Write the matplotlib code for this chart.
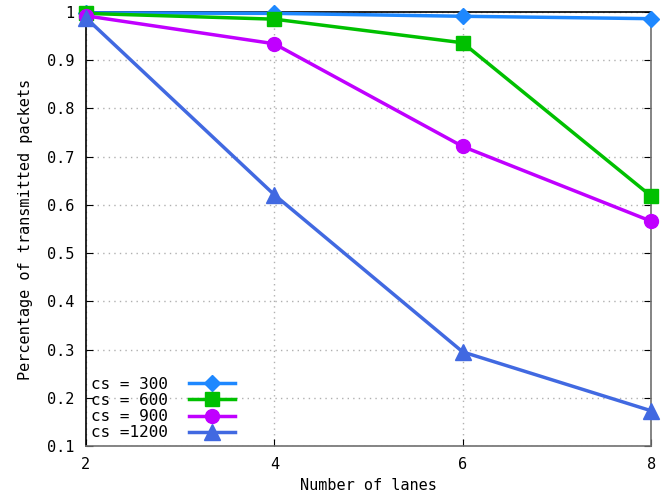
import matplotlib
matplotlib.use("Agg")
import matplotlib.pyplot as plt
from matplotlib.ticker import FuncFormatter

lanes = [2, 4, 6, 8]
cs300 = [0.998, 0.997, 0.991, 0.986]
cs600 = [0.997, 0.985, 0.936, 0.618]
cs900 = [0.992, 0.934, 0.721, 0.566]
cs1200 = [0.988, 0.621, 0.295, 0.173]
labels = ["cs = 300", "cs = 600", "cs = 900", "cs =1200"]

plt.rcParams['font.family'] = ['DejaVu Sans Mono']
fig = plt.figure(figsize=(6.7, 4.97), dpi=100)
ax = fig.add_axes([0.128, 0.1026, 0.844, 0.8734])

kw = dict(lw=2.5, clip_on=False, zorder=5)
ax.plot(lanes, cs300, color='#1e88ff', marker='D', ms=8, label=labels[0], **kw)
ax.plot(lanes, cs600, color='#00c000', marker='s', ms=10, label=labels[1], **kw)
ax.plot(lanes, cs900, color='#c000ff', marker='o', ms=10, label=labels[2], **kw)
ax.plot(lanes, cs1200, color='#4169e1', marker='^', ms=11, label=labels[3], **kw)

ax.set_xlim(2, 8)
ax.set_ylim(0.1, 1.0)
ax.set_xticks([2, 4, 6, 8])
ax.set_yticks([0.1, 0.2, 0.3, 0.4, 0.5, 0.6, 0.7, 0.8, 0.9, 1.0])
ax.yaxis.set_major_formatter(FuncFormatter(lambda v, p: ('%g' % round(v, 2))))
ax.grid(True, color='#b0b0b0', linestyle=(0, (1, 3)), lw=1)
ax.tick_params(direction='in', top=True, right=True, length=5, labelsize=11, pad=8)
for s in ax.spines.values():
    s.set_linewidth(1.2)
ax.spines['right'].set_color('#707070')
ax.spines['bottom'].set_color('#707070')

ax.set_xlabel('Number of lanes', fontsize=11, labelpad=4)
ax.set_ylabel('Percentage of transmitted packets', fontsize=11, labelpad=10)

leg = ax.legend(loc='lower left', frameon=False, markerfirst=False, fontsize=11.5,
          handlelength=2.9, handletextpad=1.3, labelspacing=0.08,
          borderaxespad=0.0, borderpad=0.35)
leg.set_zorder(10)

fig.savefig('out.png', dpi=100)
